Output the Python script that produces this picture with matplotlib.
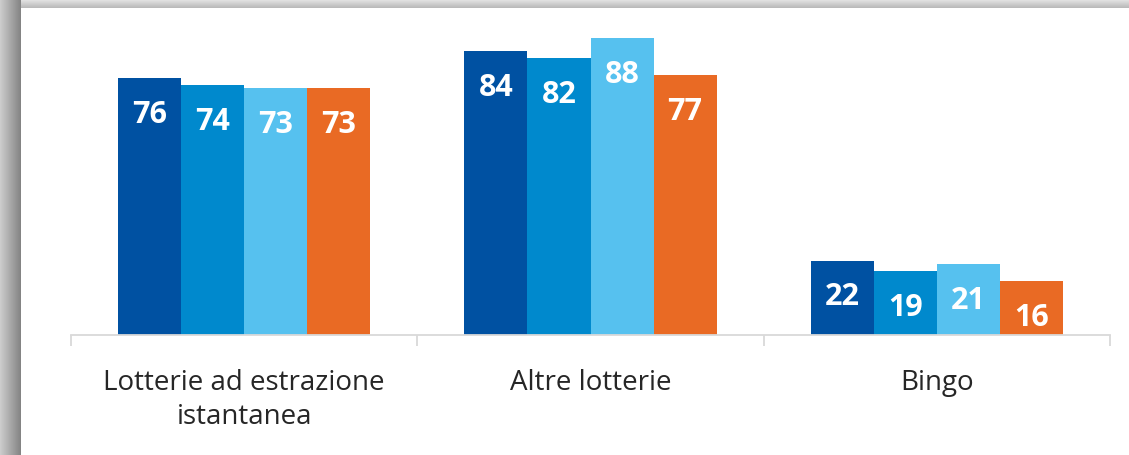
import numpy as np
import matplotlib
matplotlib.use('Agg')
import matplotlib.pyplot as plt

# Dati del grafico
categories = ["Lotterie ad estrazione\nistantanea", "Altre lotterie", "Bingo"]
series_values = [
    [76, 84, 22],
    [74, 82, 19],
    [73, 88, 21],
    [73, 77, 16],
]
series_colors = ["#0051A2", "#0089CD", "#56C1EF", "#E96A24"]

plt.rcParams['font.family'] = ['Open Sans', 'DejaVu Sans']

W, H = 1129, 456
fig = plt.figure(figsize=(W / 100, H / 100), dpi=100)

# Sfondo con ombra a sinistra e in alto
bg = np.ones((H, W, 3))
left_w, top_h = 21, 9
for i in range(left_w):
    t = i / (left_w - 1)
    v = 0.80 - 0.28 * t
    bg[:, i, :] = v
for j in range(top_h):
    t = j / (top_h - 1)
    v = 0.90 - 0.17 * t
    bg[j, left_w:, :] = v
bg_ax = fig.add_axes([0, 0, 1, 1])
bg_ax.imshow(bg, aspect='auto', interpolation='nearest')
bg_ax.axis('off')

# Area del grafico
ax = fig.add_axes([71 / W, 120 / H, 1039 / W, 304 / H])
ax.patch.set_alpha(0)

n_series = len(series_values)
bar_w = 0.182
x = np.arange(len(categories))
for k, (vals, col) in enumerate(zip(series_values, series_colors)):
    offs = (k - (n_series - 1) / 2) * bar_w
    bars = ax.bar(x + offs, vals, width=bar_w, color=col, linewidth=0)
    for b, v in zip(bars, vals):
        ax.text(b.get_x() + b.get_width() / 2, v - 10.6, f"{v}",
                ha='center', va='center', color='white',
                fontsize=22, fontweight='bold')

ax.set_xlim(-0.5, len(categories) - 0.5)
ax.set_ylim(0, 90)

for s in ['top', 'right', 'left']:
    ax.spines[s].set_visible(False)
ax.spines['bottom'].set_color('#d9d9d9')
ax.spines['bottom'].set_linewidth(1.3)

ax.set_yticks([])
ax.set_xticks(x)
ax.set_xticklabels(categories, fontsize=20, color='#262626', linespacing=1.26)
ax.tick_params(axis='x', which='major', length=0, pad=24)
ax.set_xticks(np.arange(-0.5, len(categories)), minor=True)
ax.tick_params(axis='x', which='minor', length=8, width=1.3, color='#d9d9d9')

fig.savefig('out.png', dpi=100)
